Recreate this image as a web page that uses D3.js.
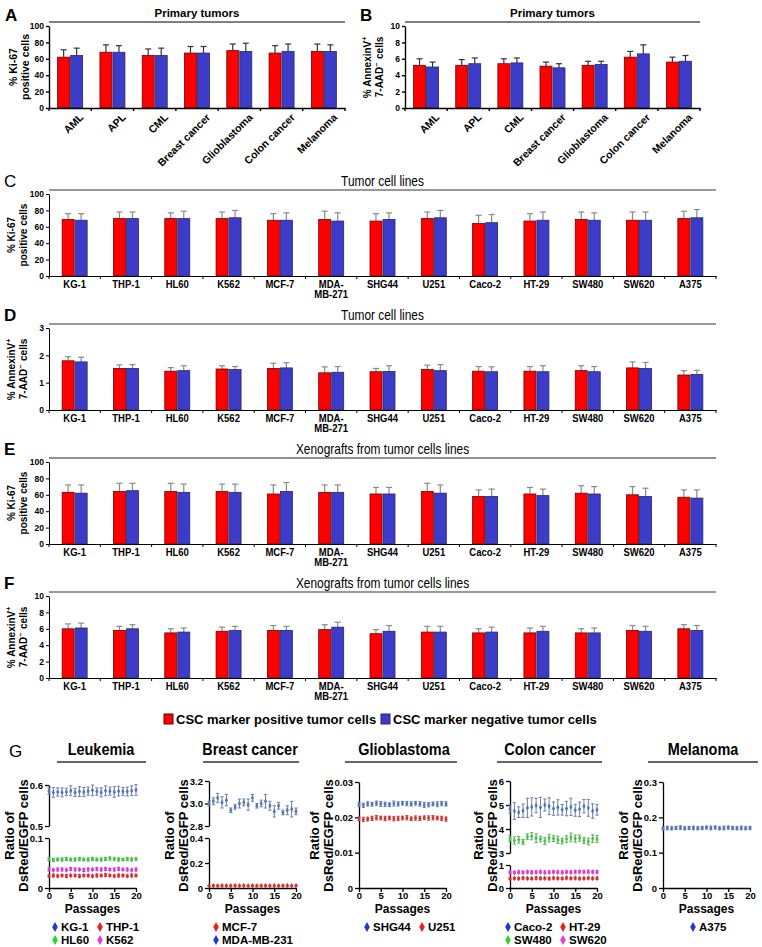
<!DOCTYPE html>
<html>
<head>
<meta charset="utf-8">
<script src="https://cdn.jsdelivr.net/npm/d3@7"></script>
<style>
  body { margin: 0; background: #fff; }
  svg { display: block; font-family: 'Liberation Sans', Arial, sans-serif; }
</style>
</head>
<body>
<svg id="fig" width="762" height="947"></svg>
<script>
// ---------- categories ----------
const primaryTumors = ['AML', 'APL', 'CML', 'Breast cancer', 'Glioblastoma', 'Colon cancer', 'Melanoma'];
const cellLines = ['KG-1', 'THP-1', 'HL60', 'K562', 'MCF-7', 'MDA-MB-271', 'SHG44', 'U251', 'Caco-2', 'HT-29', 'SW480', 'SW620', 'A375'];
const passages = [0, 1, 2, 3, 4, 5, 6, 7, 8, 9, 10, 11, 12, 13, 14, 15, 16, 17, 18, 19, 20];

// ---------- A: Ki-67, primary tumors ----------
const kiPrimaryPos = [62, 68, 64, 67, 70, 67, 69];
const kiPrimaryPosSd = [9, 9, 8, 8, 8, 9, 9];
const kiPrimaryNeg = [64, 68, 64, 67, 69, 69, 69];
const kiPrimaryNegSd = [9, 8, 9, 8, 10, 9, 8];

// ---------- B: AnnexinV, primary tumors ----------
const annPrimaryPos = [5.2, 5.2, 5.4, 5.1, 5.2, 6.2, 5.6];
const annPrimaryPosSd = [0.8, 0.7, 0.6, 0.5, 0.5, 0.7, 0.6];
const annPrimaryNeg = [5.0, 5.4, 5.5, 4.9, 5.3, 6.6, 5.7];
const annPrimaryNegSd = [0.6, 0.7, 0.6, 0.5, 0.4, 1.1, 0.7];

// ---------- C: Ki-67, cell lines ----------
const kiLinePos = [69, 70, 70, 70, 68, 69, 67, 70, 64, 67, 69, 68, 70];
const kiLinePosSd = [7, 8, 7, 8, 8, 10, 9, 8, 10, 9, 9, 10, 9];
const kiLineNeg = [68, 70, 70, 71, 68, 67, 69, 71, 65, 68, 68, 68, 71];
const kiLineNegSd = [8, 8, 9, 9, 9, 10, 8, 9, 10, 10, 9, 10, 10];

// ---------- D: AnnexinV, cell lines ----------
const annLinePos = [1.80, 1.52, 1.42, 1.50, 1.52, 1.36, 1.40, 1.48, 1.42, 1.42, 1.44, 1.54, 1.28];
const annLinePosSd = [0.15, 0.13, 0.13, 0.12, 0.19, 0.22, 0.12, 0.16, 0.17, 0.17, 0.18, 0.22, 0.16];
const annLineNeg = [1.76, 1.52, 1.44, 1.48, 1.54, 1.38, 1.41, 1.44, 1.40, 1.40, 1.40, 1.52, 1.30];
const annLineNegSd = [0.17, 0.14, 0.18, 0.11, 0.19, 0.21, 0.21, 0.22, 0.18, 0.22, 0.19, 0.22, 0.15];

// ---------- E: Ki-67, xenografts ----------
const kiXenoPos = [63, 64, 64, 64, 61, 63, 61, 64, 58, 61, 62, 60, 57];
const kiXenoPosSd = [9, 10, 10, 9, 11, 9, 8, 10, 8, 8, 9, 10, 9];
const kiXenoNeg = [62, 65, 63, 63, 64, 63, 61, 62, 58, 59, 61, 58, 56];
const kiXenoNegSd = [10, 9, 10, 10, 11, 9, 8, 10, 9, 8, 9, 10, 10];

// ---------- F: AnnexinV, xenografts ----------
const annXenoPos = [6.0, 5.8, 5.5, 5.7, 5.8, 5.9, 5.4, 5.6, 5.5, 5.5, 5.5, 5.8, 6.0];
const annXenoPosSd = [0.6, 0.5, 0.5, 0.5, 0.6, 0.6, 0.5, 0.7, 0.5, 0.6, 0.5, 0.6, 0.5];
const annXenoNeg = [6.1, 6.0, 5.6, 5.8, 5.8, 6.2, 5.7, 5.6, 5.6, 5.7, 5.5, 5.7, 5.8];
const annXenoNegSd = [0.6, 0.5, 0.5, 0.5, 0.5, 0.6, 0.7, 0.7, 0.6, 0.6, 0.6, 0.6, 0.6];

// ---------- G: DsRed/EGFP ratio over passages ----------
const kg1Mean = [0.585, 0.582, 0.583, 0.582, 0.583, 0.586, 0.582, 0.584, 0.583, 0.585, 0.587, 0.584, 0.582, 0.586, 0.585, 0.583, 0.585, 0.584, 0.584, 0.586, 0.588];
const kg1Sd = [0.008, 0.012, 0.010, 0.011, 0.009, 0.012, 0.010, 0.012, 0.011, 0.010, 0.013, 0.009, 0.011, 0.012, 0.010, 0.013, 0.012, 0.010, 0.011, 0.012, 0.013];
const thp1Mean = [0.024, 0.025, 0.024, 0.025, 0.024, 0.025, 0.025, 0.024, 0.025, 0.025, 0.024, 0.025, 0.025, 0.026, 0.025, 0.024, 0.025, 0.025, 0.024, 0.025, 0.025];
const thp1Sd = [0.002, 0.003, 0.002, 0.002, 0.003, 0.002, 0.002, 0.003, 0.002, 0.002, 0.002, 0.003, 0.002, 0.003, 0.002, 0.002, 0.003, 0.002, 0.002, 0.003, 0.002];
const hl60Mean = [0.058, 0.056, 0.057, 0.057, 0.058, 0.057, 0.057, 0.058, 0.057, 0.057, 0.058, 0.057, 0.057, 0.058, 0.059, 0.058, 0.057, 0.057, 0.058, 0.057, 0.058];
const hl60Sd = [0.003, 0.003, 0.002, 0.003, 0.003, 0.002, 0.003, 0.003, 0.002, 0.003, 0.003, 0.002, 0.003, 0.003, 0.003, 0.002, 0.003, 0.002, 0.003, 0.003, 0.002];
const k562Mean = [0.037, 0.036, 0.037, 0.037, 0.036, 0.038, 0.037, 0.037, 0.036, 0.037, 0.037, 0.038, 0.037, 0.038, 0.037, 0.037, 0.038, 0.037, 0.037, 0.036, 0.037];
const k562Sd = [0.003, 0.002, 0.003, 0.003, 0.002, 0.003, 0.003, 0.002, 0.003, 0.003, 0.002, 0.003, 0.003, 0.003, 0.002, 0.003, 0.003, 0.002, 0.003, 0.002, 0.003];
const mcf7Mean = [0.018, 0.019, 0.018, 0.019, 0.018, 0.018, 0.019, 0.018, 0.019, 0.018, 0.019, 0.018, 0.018, 0.019, 0.018, 0.019, 0.018, 0.018, 0.019, 0.018, 0.019];
const mcf7Sd = [0.004, 0.004, 0.005, 0.004, 0.004, 0.005, 0.004, 0.004, 0.005, 0.004, 0.004, 0.004, 0.005, 0.004, 0.004, 0.005, 0.004, 0.004, 0.004, 0.005, 0.004];
const mdaMean = [3.00, 3.02, 3.05, 3.01, 3.03, 2.94, 2.97, 3.00, 3.01, 2.99, 3.05, 2.98, 3.00, 3.02, 2.98, 2.93, 2.98, 2.92, 2.94, 2.95, 2.93];
const mdaSd = [0.02, 0.03, 0.04, 0.05, 0.05, 0.02, 0.02, 0.04, 0.03, 0.05, 0.03, 0.02, 0.03, 0.06, 0.04, 0.05, 0.03, 0.02, 0.04, 0.07, 0.03];
const shg44Mean = [0.0236, 0.0234, 0.0238, 0.0237, 0.0240, 0.0238, 0.0237, 0.0236, 0.0239, 0.0238, 0.0240, 0.0239, 0.0238, 0.0240, 0.0238, 0.0235, 0.0236, 0.0238, 0.0237, 0.0239, 0.0238];
const shg44Sd = [0.0005, 0.0006, 0.0006, 0.0005, 0.0006, 0.0007, 0.0006, 0.0005, 0.0007, 0.0006, 0.0005, 0.0006, 0.0006, 0.0005, 0.0006, 0.0007, 0.0006, 0.0005, 0.0007, 0.0006, 0.0006];
const u251Mean = [0.0196, 0.0194, 0.0195, 0.0197, 0.0199, 0.0198, 0.0197, 0.0198, 0.0196, 0.0197, 0.0198, 0.0199, 0.0196, 0.0198, 0.0197, 0.0199, 0.0198, 0.0199, 0.0198, 0.0197, 0.0195];
const u251Sd = [0.0005, 0.0006, 0.0005, 0.0006, 0.0006, 0.0005, 0.0006, 0.0005, 0.0006, 0.0006, 0.0005, 0.0006, 0.0005, 0.0006, 0.0006, 0.0005, 0.0006, 0.0006, 0.0005, 0.0006, 0.0006];
const caco2Mean = [4.82, 4.75, 4.70, 4.76, 4.88, 4.92, 4.98, 4.90, 5.00, 4.95, 4.85, 4.90, 4.80, 4.85, 4.92, 4.78, 4.82, 4.95, 4.88, 4.75, 4.80];
const caco2Sd = [0.18, 0.35, 0.22, 0.28, 0.40, 0.38, 0.30, 0.42, 0.25, 0.35, 0.28, 0.32, 0.22, 0.30, 0.36, 0.25, 0.30, 0.28, 0.35, 0.30, 0.22];
const ht29Mean = [0.40, 0.42, 0.41, 0.43, 0.42, 0.41, 0.43, 0.42, 0.42, 0.41, 0.43, 0.42, 0.41, 0.44, 0.42, 0.43, 0.41, 0.42, 0.43, 0.42, 0.42];
const ht29Sd = [0.04, 0.04, 0.05, 0.04, 0.04, 0.04, 0.05, 0.04, 0.04, 0.05, 0.04, 0.04, 0.04, 0.05, 0.04, 0.04, 0.05, 0.04, 0.04, 0.04, 0.05];
const sw480Mean = [3.60, 3.52, 3.55, 3.46, 3.68, 3.70, 3.62, 3.58, 3.50, 3.62, 3.60, 3.55, 3.50, 3.58, 3.65, 3.60, 3.62, 3.52, 3.48, 3.60, 3.58];
const sw480Sd = [0.12, 0.15, 0.14, 0.10, 0.12, 0.15, 0.18, 0.12, 0.14, 0.16, 0.12, 0.15, 0.12, 0.14, 0.18, 0.15, 0.13, 0.12, 0.14, 0.16, 0.15];
const sw620Mean = [0.68, 0.67, 0.69, 0.68, 0.70, 0.68, 0.69, 0.70, 0.68, 0.69, 0.70, 0.69, 0.68, 0.70, 0.69, 0.70, 0.71, 0.70, 0.71, 0.70, 0.70];
const sw620Sd = [0.05, 0.05, 0.06, 0.05, 0.05, 0.06, 0.05, 0.05, 0.06, 0.05, 0.05, 0.05, 0.06, 0.05, 0.05, 0.06, 0.05, 0.05, 0.06, 0.05, 0.05];
const a375Mean = [0.168, 0.170, 0.169, 0.170, 0.171, 0.169, 0.170, 0.170, 0.169, 0.170, 0.171, 0.170, 0.171, 0.169, 0.170, 0.171, 0.170, 0.169, 0.170, 0.169, 0.170];
const a375Sd = [0.004, 0.005, 0.004, 0.004, 0.005, 0.004, 0.004, 0.005, 0.004, 0.004, 0.004, 0.005, 0.004, 0.004, 0.005, 0.004, 0.004, 0.004, 0.005, 0.004, 0.004];

// ---------- styles ----------
const RED = '#ff0000', RED_EDGE = '#6e0000';
const BLUE = '#3c3cc8', BLUE_EDGE = '#26266e';
const S_BLUE = '#5477b8', S_RED = '#d93030', S_GREEN = '#3fc83f', S_MAGENTA = '#d83cd8';
const L_BLUE = '#2038d8', L_RED = '#e82020', L_GREEN = '#2bd62b', L_MAGENTA = '#e838e8';

const svg = d3.select('#fig');

function label(letter, x, y, weight) {
  svg.append('text').attr('x', x).attr('y', y)
    .attr('font-size', 17).attr('font-weight', weight).text(letter);
}

function narrowText(g, x, y, txt, size, weight) {
  return g.append('text')
    .attr('transform', `translate(${x},${y}) scale(0.85,1)`)
    .attr('text-anchor', 'middle')
    .attr('font-size', size).attr('font-weight', weight)
    .text(txt);
}

// rotated two-line y label; parts may carry a superscript
function yLabel(g, xs, yMid, lines, size) {
  lines.forEach((parts, i) => {
    const t = g.append('text')
      .attr('transform', `translate(${xs[i]},${yMid}) rotate(-90)`)
      .attr('text-anchor', 'middle').attr('dy', '0.35em')
      .attr('font-size', size).attr('font-weight', 'bold');
    parts.forEach(p => {
      if (p.sup) {
        t.append('tspan').attr('dy', -size * 0.4).attr('font-size', size * 0.7).text(p.sup);
        t.append('tspan').attr('dy', size * 0.4).text('\u200a');
      } else {
        t.append('tspan').text(p.t);
      }
    });
  });
}

function barPanel(p) {
  const g = svg.append('g');
  const bottom = p.top + p.h;
  const x = d3.scaleBand().domain(p.cats).range([p.x0, p.x1]);
  const pair = d3.scaleBand().domain(['pos', 'neg']).range([-12.5, 12.5]).paddingInner(0.08);
  const y = d3.scaleLinear().domain([0, p.yMax]).range([bottom, p.top]);

  // title and rule
  if (p.narrowTitle) {
    narrowText(g, (p.x0 + p.x1) / 2, p.top - 8, p.title, 14, 'normal');
  } else {
    g.append('text').attr('x', (p.x0 + p.x1) / 2).attr('y', p.top - 9)
      .attr('text-anchor', 'middle').attr('font-size', 11.5).attr('font-weight', 'bold').text(p.title);
  }
  g.append('line').attr('x1', p.x0).attr('x2', p.x1)
    .attr('y1', p.top - 4).attr('y2', p.top - 4)
    .attr('stroke', p.ruleColor).attr('stroke-width', p.ruleW);

  const rows = p.cats.flatMap((c, i) => [
    { cat: c, grp: 'pos', v: p.pos[i], sd: p.posSd[i] },
    { cat: c, grp: 'neg', v: p.neg[i], sd: p.negSd[i] }
  ]);
  const cx = d => x(d.cat) + x.bandwidth() / 2 + pair(d.grp) + pair.bandwidth() / 2;

  // error bars (upper only)
  g.selectAll('line.err').data(rows).join('line').attr('class', 'err')
    .attr('x1', cx).attr('x2', cx)
    .attr('y1', d => y(d.v)).attr('y2', d => y(d.v + d.sd))
    .attr('stroke', p.errColor).attr('stroke-width', 1.2);
  g.selectAll('line.cap').data(rows).join('line').attr('class', 'cap')
    .attr('x1', d => cx(d) - 3).attr('x2', d => cx(d) + 3)
    .attr('y1', d => y(d.v + d.sd)).attr('y2', d => y(d.v + d.sd))
    .attr('stroke', p.errColor).attr('stroke-width', 1.2);

  // bars
  g.selectAll('rect.bar').data(rows).join('rect').attr('class', 'bar')
    .attr('x', d => x(d.cat) + x.bandwidth() / 2 + pair(d.grp))
    .attr('width', pair.bandwidth())
    .attr('y', d => y(d.v))
    .attr('height', d => bottom - y(d.v))
    .attr('fill', d => d.grp === 'pos' ? RED : BLUE)
    .attr('stroke', d => d.grp === 'pos' ? RED_EDGE : BLUE_EDGE)
    .attr('stroke-width', 0.8);

  // y axis
  g.append('g').attr('transform', `translate(${p.x0},0)`)
    .call(d3.axisLeft(y).tickValues(p.yTicks).tickSize(3).tickSizeOuter(0).tickPadding(2).tickFormat(d3.format('d')))
    .call(a => {
      a.select('.domain').attr('stroke-width', p.axisW);
      a.selectAll('.tick line').attr('stroke-width', p.axisW);
      a.selectAll('text').attr('font-size', 8.5).attr('font-weight', 'bold').attr('font-family', null);
    });

  // x axis with ticks between groups
  g.append('g').attr('transform', `translate(0,${bottom})`)
    .call(d3.axisBottom(x).tickSize(0).tickSizeOuter(0).tickFormat(''))
    .call(a => a.select('.domain').attr('stroke-width', p.axisW));
  const edges = p.cats.map(c => x(c)).concat([p.x1]);
  g.selectAll('line.sep').data(edges).join('line').attr('class', 'sep')
    .attr('x1', d => d).attr('x2', d => d)
    .attr('y1', bottom).attr('y2', bottom + 3)
    .attr('stroke', '#000').attr('stroke-width', p.axisW);

  // category labels
  if (p.rotate) {
    g.selectAll('text.cat').data(p.cats).join('text').attr('class', 'cat')
      .attr('transform', c => `translate(${x(c) + x.bandwidth() / 2 + 14},${bottom + 10}) rotate(-45)`)
      .attr('text-anchor', 'end').attr('font-size', 10.5).attr('font-weight', 'bold')
      .text(c => c);
  } else {
    const t = g.selectAll('text.cat').data(p.cats).join('text').attr('class', 'cat')
      .attr('text-anchor', 'middle').attr('font-size', 10).attr('font-weight', 'bold')
      .attr('transform', c => `translate(${x(c) + x.bandwidth() / 2},${bottom + 12}) scale(0.95,1)`);
    t.each(function (c) {
      const parts = c.startsWith('MDA-') ? ['MDA-', c.slice(4)] : [c];
      parts.forEach((s, i) => d3.select(this).append('tspan')
        .attr('x', 0).attr('dy', i ? 10 : 0).text(s));
    });
  }

  yLabel(g, p.ylabX, p.top + p.h / 2, p.ylab, p.ylabSize);
}

const kiLab = [[{ t: '% Ki-67' }], [{ t: 'positive cells' }]];
const annLab = [[{ t: '% AnnexinV' }, { sup: '+' }], [{ t: '7-AAD' }, { sup: '\u2212' }, { t: ' cells' }]];

// ---------- A / B ----------
barPanel({ cats: primaryTumors, pos: kiPrimaryPos, posSd: kiPrimaryPosSd, neg: kiPrimaryNeg, negSd: kiPrimaryNegSd,
  yMax: 100, yTicks: [0, 20, 40, 60, 80, 100], x0: 49, x1: 345, top: 26, h: 82, rotate: true,
  title: 'Primary tumors', ruleColor: '#000', ruleW: 1, axisW: 1.4, errColor: '#333', ylab: kiLab, ylabX: [13, 25], ylabSize: 10.5 });
barPanel({ cats: primaryTumors, pos: annPrimaryPos, posSd: annPrimaryPosSd, neg: annPrimaryNeg, negSd: annPrimaryNegSd,
  yMax: 10, yTicks: [0, 2, 4, 6, 8, 10], x0: 405, x1: 700, top: 26, h: 82, rotate: true,
  title: 'Primary tumors', ruleColor: '#000', ruleW: 1, axisW: 1.4, errColor: '#333', ylab: annLab, ylabX: [367, 379], ylabSize: 10 });
label('A', 5, 21, 'bold');
label('B', 360, 21, 'bold');

// ---------- C - F ----------
const lineTops = { C: 194, D: 328, E: 462, F: 596 };
const lineH = 82;
barPanel({ cats: cellLines, pos: kiLinePos, posSd: kiLinePosSd, neg: kiLineNeg, negSd: kiLineNegSd,
  yMax: 100, yTicks: [0, 20, 40, 60, 80, 100], x0: 49, x1: 716, top: lineTops.C, h: lineH, narrowTitle: true,
  title: 'Tumor cell lines', ruleColor: '#777', ruleW: 1.6, axisW: 1, errColor: '#8a8a8a', ylab: kiLab, ylabX: [11, 23], ylabSize: 10 });
barPanel({ cats: cellLines, pos: annLinePos, posSd: annLinePosSd, neg: annLineNeg, negSd: annLineNegSd,
  yMax: 3, yTicks: [0, 1, 2, 3], x0: 49, x1: 716, top: lineTops.D, h: lineH, narrowTitle: true,
  title: 'Tumor cell lines', ruleColor: '#777', ruleW: 1.6, axisW: 1, errColor: '#8a8a8a', ylab: annLab, ylabX: [11, 23], ylabSize: 10 });
barPanel({ cats: cellLines, pos: kiXenoPos, posSd: kiXenoPosSd, neg: kiXenoNeg, negSd: kiXenoNegSd,
  yMax: 100, yTicks: [0, 20, 40, 60, 80, 100], x0: 49, x1: 716, top: lineTops.E, h: lineH, narrowTitle: true,
  title: 'Xenografts from tumor cells lines', ruleColor: '#222', ruleW: 1.2, axisW: 1, errColor: '#8a8a8a', ylab: kiLab, ylabX: [11, 23], ylabSize: 10 });
barPanel({ cats: cellLines, pos: annXenoPos, posSd: annXenoPosSd, neg: annXenoNeg, negSd: annXenoNegSd,
  yMax: 10, yTicks: [0, 2, 4, 6, 8, 10], x0: 49, x1: 716, top: lineTops.F, h: lineH, narrowTitle: true,
  title: 'Xenografts from tumor cells lines', ruleColor: '#777', ruleW: 1.6, axisW: 1, errColor: '#8a8a8a', ylab: annLab, ylabX: [11, 23], ylabSize: 10 });
label('C', 4, lineTops.C - 7, 'normal');
label('D', 4, lineTops.D - 7, 'bold');
label('E', 4, lineTops.E - 7, 'bold');
label('F', 4, lineTops.F - 7, 'bold');

// ---------- bar legend ----------
const barLegend = [
  { name: 'CSC marker positive tumor cells', fill: RED, edge: RED_EDGE, x: 164 },
  { name: 'CSC marker negative tumor cells', fill: BLUE, edge: BLUE_EDGE, x: 381 }
];
const lg = svg.append('g').attr('transform', 'translate(0,719)');
lg.selectAll('rect').data(barLegend).join('rect')
  .attr('x', d => d.x).attr('y', -5).attr('width', 9).attr('height', 10)
  .attr('fill', d => d.fill).attr('stroke', d => d.edge);
lg.selectAll('text').data(barLegend).join('text')
  .attr('x', d => d.x + 12).attr('y', 5)
  .attr('font-size', 13).attr('font-weight', 'bold').text(d => d.name);

// ---------- G ----------
const G_TOP = 783, G_BOTTOM = 888, G_W = 87;
const fmt1 = v => v === 0 ? '0' : d3.format('.1f')(v);

function passagePanel(p) {
  const g = svg.append('g');
  const x = d3.scaleLinear().domain([0, 20]).range([p.x0, p.x0 + G_W]);
  const segs = p.segments.map(s => Object.assign({}, s, { y: d3.scaleLinear().domain(s.domain).range(s.range) }));

  narrowText(g, p.titleX, 755, p.title, 17, 'bold');
  g.append('line').attr('x1', p.ruleX[0]).attr('x2', p.ruleX[1])
    .attr('y1', 762).attr('y2', 762).attr('stroke', '#333').attr('stroke-width', 1.5);

  let tickW = 0;
  segs.forEach(s => {
    const ax = g.append('g').attr('transform', `translate(${p.x0},0)`)
      .call(d3.axisLeft(s.y).tickValues(s.ticks).tickFormat(s.fmt).tickSize(4).tickSizeOuter(0).tickPadding(2));
    ax.select('.domain').attr('stroke-width', 1.3);
    ax.selectAll('.tick line').attr('stroke-width', 1.3);
    ax.selectAll('text').attr('font-size', 9.5).attr('font-weight', 'bold').attr('font-family', null)
      .each(function () { tickW = Math.max(tickW, this.getComputedTextLength()); });
  });

  const xa = g.append('g').attr('transform', `translate(0,${G_BOTTOM})`)
    .call(d3.axisBottom(x).tickValues([0, 5, 10, 15, 20]).tickSize(4).tickSizeOuter(0).tickPadding(0));
  xa.select('.domain').attr('stroke-width', 1.3);
  xa.selectAll('.tick line').attr('stroke-width', 1.3);
  xa.selectAll('text').attr('font-size', 9.5).attr('font-weight', 'bold').attr('font-family', null);

  p.series.forEach(s => {
    const seg = segs.find(q => s.mean[0] >= q.domain[0] && s.mean[0] <= q.domain[1]);
    const pts = passages.map((t, i) => ({ t, m: s.mean[i], sd: s.sd[i] }));
    const errCol = d3.interpolateRgb(s.color, '#8a8a8a')(0.45);
    const sg = g.append('g');
    sg.selectAll('line.e').data(pts).join('line')
      .attr('x1', d => x(d.t)).attr('x2', d => x(d.t))
      .attr('y1', d => seg.y(d.m - d.sd)).attr('y2', d => seg.y(d.m + d.sd))
      .attr('stroke', errCol).attr('stroke-width', 1);
    [-1, 1].forEach(k => {
      sg.selectAll(`line.c${k}`).data(pts).join('line')
        .attr('x1', d => x(d.t) - 1.6).attr('x2', d => x(d.t) + 1.6)
        .attr('y1', d => seg.y(d.m + k * d.sd)).attr('y2', d => seg.y(d.m + k * d.sd))
        .attr('stroke', errCol).attr('stroke-width', 1);
    });
    sg.selectAll('path').data(pts).join('path')
      .attr('d', d3.symbol(d3.symbolDiamond, 9))
      .attr('transform', d => `translate(${x(d.t)},${seg.y(d.m)})`)
      .attr('fill', s.color);
  });

  const ymid = (G_TOP + G_BOTTOM) / 2;
  [['Ratio of', tickW + 26], ['DsRed/EGFP cells', tickW + 12]].forEach(([txt, off]) => {
    g.append('text').attr('transform', `translate(${p.x0 - off},${ymid}) rotate(-90)`)
      .attr('text-anchor', 'middle').attr('dy', '0.35em')
      .attr('font-size', 13).attr('font-weight', 'bold').text(txt);
  });
  g.append('text').attr('x', p.x0 + G_W / 2).attr('y', 913)
    .attr('text-anchor', 'middle').attr('font-size', 12).attr('font-weight', 'bold').text('Passages');

  p.legend.forEach(item => {
    const ly = item.row === 0 ? 927 : 940;
    g.append('path').attr('d', d3.symbol(d3.symbolDiamond, 28))
      .attr('transform', `translate(${p.x0 + item.dx},${ly})`).attr('fill', item.color);
    g.append('text').attr('x', p.x0 + item.dx + 6).attr('y', ly + 4)
      .attr('font-size', 11.5).attr('font-weight', 'bold').text(item.name);
  });
}

passagePanel({
  title: 'Leukemia', x0: 49, titleX: 101, ruleX: [57, 146],
  segments: [
    { domain: [0.5, 0.6], range: [826, G_TOP + 2], ticks: [0.5, 0.6], fmt: fmt1 },
    { domain: [0, 0.1], range: [G_BOTTOM, 838], ticks: [0, 0.1], fmt: fmt1 }
  ],
  series: [
    { mean: kg1Mean, sd: kg1Sd, color: S_BLUE },
    { mean: hl60Mean, sd: hl60Sd, color: S_GREEN },
    { mean: k562Mean, sd: k562Sd, color: S_MAGENTA },
    { mean: thp1Mean, sd: thp1Sd, color: S_RED }
  ],
  legend: [
    { name: 'KG-1', color: L_BLUE, dx: 6, row: 0 }, { name: 'THP-1', color: L_RED, dx: 51, row: 0 },
    { name: 'HL60', color: L_GREEN, dx: 6, row: 1 }, { name: 'K562', color: L_MAGENTA, dx: 51, row: 1 }
  ]
});
passagePanel({
  title: 'Breast cancer', x0: 209, titleX: 250, ruleX: [203, 299],
  segments: [
    { domain: [2.8, 3.2], range: [826, G_TOP - 2], ticks: [2.8, 3.0, 3.2], fmt: fmt1 },
    { domain: [0, 0.4], range: [G_BOTTOM, 838], ticks: [0, 0.2, 0.4], fmt: fmt1 }
  ],
  series: [
    { mean: mdaMean, sd: mdaSd, color: S_BLUE },
    { mean: mcf7Mean, sd: mcf7Sd, color: S_RED }
  ],
  legend: [
    { name: 'MCF-7', color: L_RED, dx: 7, row: 0 }, { name: 'MDA-MB-231', color: L_BLUE, dx: 7, row: 1 }
  ]
});
passagePanel({
  title: 'Glioblastoma', x0: 359, titleX: 404, ruleX: [345, 457],
  segments: [
    { domain: [0, 0.03], range: [G_BOTTOM, G_TOP - 1], ticks: [0, 0.01, 0.02, 0.03], fmt: v => v === 0 ? '0' : d3.format('.2f')(v) }
  ],
  series: [
    { mean: shg44Mean, sd: shg44Sd, color: S_BLUE },
    { mean: u251Mean, sd: u251Sd, color: S_RED }
  ],
  legend: [
    { name: 'SHG44', color: L_BLUE, dx: 8, row: 0 }, { name: 'U251', color: L_RED, dx: 63, row: 0 }
  ]
});
passagePanel({
  title: 'Colon cancer', x0: 510, titleX: 550, ruleX: [497, 602],
  segments: [
    { domain: [3, 6], range: [853, G_TOP - 2], ticks: [3, 4, 5, 6], fmt: d3.format('d') },
    { domain: [0, 1], range: [G_BOTTOM, 865], ticks: [0, 1], fmt: d3.format('d') }
  ],
  series: [
    { mean: caco2Mean, sd: caco2Sd, color: S_BLUE },
    { mean: sw480Mean, sd: sw480Sd, color: S_GREEN },
    { mean: sw620Mean, sd: sw620Sd, color: S_MAGENTA },
    { mean: ht29Mean, sd: ht29Sd, color: S_RED }
  ],
  legend: [
    { name: 'Caco-2', color: L_BLUE, dx: -2, row: 0 }, { name: 'HT-29', color: L_RED, dx: 53, row: 0 },
    { name: 'SW480', color: L_GREEN, dx: -2, row: 1 }, { name: 'SW620', color: L_MAGENTA, dx: 53, row: 1 }
  ]
});
passagePanel({
  title: 'Melanoma', x0: 663, titleX: 703, ruleX: [648, 758],
  segments: [
    { domain: [0, 0.3], range: [G_BOTTOM, G_TOP - 1], ticks: [0, 0.1, 0.2, 0.3], fmt: fmt1 }
  ],
  series: [
    { mean: a375Mean, sd: a375Sd, color: S_BLUE }
  ],
  legend: [
    { name: 'A375', color: L_BLUE, dx: 30, row: 0 }
  ]
});
label('G', 9, 757, 'normal');
</script>
</body>
</html>
